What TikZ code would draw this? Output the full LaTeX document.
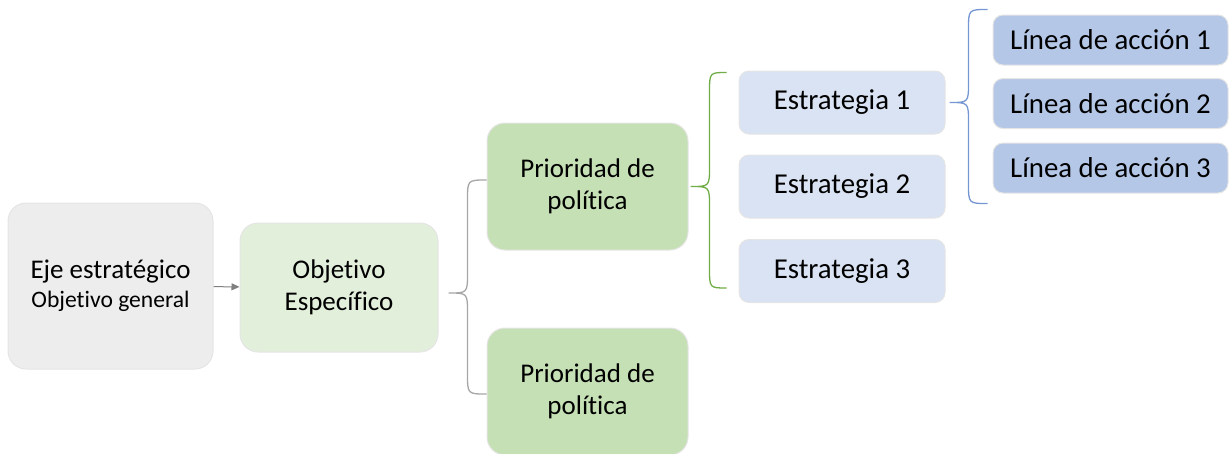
\documentclass[tikz,border=0pt]{standalone}
\usepackage{fontspec}
\setmainfont{Carlito}[Ligatures=NoCommon]
\usetikzlibrary{arrows.meta,calc}

\definecolor{ejegray}{HTML}{EDEDED}
\definecolor{objgreen}{HTML}{E2EFDA}
\definecolor{priogreen}{HTML}{C5E0B4}
\definecolor{estblue}{HTML}{DAE3F3}
\definecolor{linblue}{HTML}{B4C7E7}
\definecolor{bracegray}{HTML}{A6A6A6}
\definecolor{bracegreen}{HTML}{70AD47}
\definecolor{braceblue}{HTML}{7496D2}

\tikzset{
  box/.style={draw=black!10, line width=1pt, align=center, inner sep=0pt,
    font=\fontsize{27}{32}\selectfont},
  bigbox/.style={box, rounded corners=18pt},
  smallbox/.style={box, rounded corners=10pt, font=\fontsize{28.8}{34}\selectfont},
  curl/.style={line width=1.3pt},
}

% brace: style, tip, top end, bottom end
\newcommand{\curly}[4]{%
  \draw[curl,#1] let \p1=(#2),\p2=(#3),\p3=(#4) in
    (\p2) .. controls (\x1+19pt,\y2) .. (\x1+19pt,\y2-20pt)
    -- (\x1+19pt,\y1+20pt) .. controls (\x1+19pt,\y1) .. (\p1)
    .. controls (\x1+19pt,\y1) .. (\x1+19pt,\y1-20pt)
    -- (\x1+19pt,\y3+20pt) .. controls (\x1+19pt,\y3) .. (\p3);}

\begin{document}
\begin{tikzpicture}[x=1pt,y=-1pt]
\useasboundingbox (0,0) rectangle (1230,453);

\node[bigbox, fill=ejegray, minimum width=205pt, minimum height=166pt] (eje) at (110.5,286)
  {Eje estratégico\\[-3pt]{\fontsize{23.6}{28}\selectfont Objetivo general}};
\node[bigbox, fill=objgreen, minimum width=198pt, minimum height=129pt] (obj) at (339,287.5)
  {Objetivo\\Específico};
\node[bigbox, fill=priogreen, minimum width=201pt, minimum height=127pt] (prio1) at (587.5,186.5)
  {Prioridad de\\política};
\node[bigbox, fill=priogreen, minimum width=201pt, minimum height=127pt] (prio2) at (587.5,391.5)
  {Prioridad de\\política};

\node[smallbox, fill=estblue, minimum width=206pt, minimum height=63pt] (est1) at (842,102.5) {Estrategia 1};
\node[smallbox, fill=estblue, minimum width=206pt, minimum height=63pt] (est2) at (842,186.5) {Estrategia 2};
\node[smallbox, fill=estblue, minimum width=206pt, minimum height=63pt] (est3) at (842,271) {Estrategia 3};

\node[smallbox, fill=linblue, minimum width=235pt, minimum height=50pt] (lin1) at (1110.5,40) {Línea de acción 1};
\node[smallbox, fill=linblue, minimum width=235pt, minimum height=50pt] (lin2) at (1110.5,103.5) {Línea de acción 2};
\node[smallbox, fill=linblue, minimum width=235pt, minimum height=50pt] (lin3) at (1110.5,168) {Línea de acción 3};

\draw[black!50, line width=1pt, -{Triangle[length=8pt,width=7pt]}] (eje) -- (obj);

% braces
\coordinate (gtip) at ($(obj.east)+(10,5.5)$);
\coordinate (gtop) at ($(prio1.west)+(0,-6.5)$);
\coordinate (gbot) at ($(prio2.west)+(0,2.5)$);
\curly{bracegray}{gtip}{gtop}{gbot}

\coordinate (etip) at ($(prio1.east)+(2,0)$);
\coordinate (etop) at ($(est1.north west)+(-12,2)$);
\coordinate (ebot) at ($(est3.south west)+(-12,-15)$);
\curly{bracegreen}{etip}{etop}{ebot}

\coordinate (ltip) at ($(est1.east)+(4,0)$);
\coordinate (ltop) at ($(lin1.north west)+(-5,-5)$);
\coordinate (lbot) at ($(lin3.south west)+(-5,10)$);
\curly{braceblue}{ltip}{ltop}{lbot}
\end{tikzpicture}
\end{document}
